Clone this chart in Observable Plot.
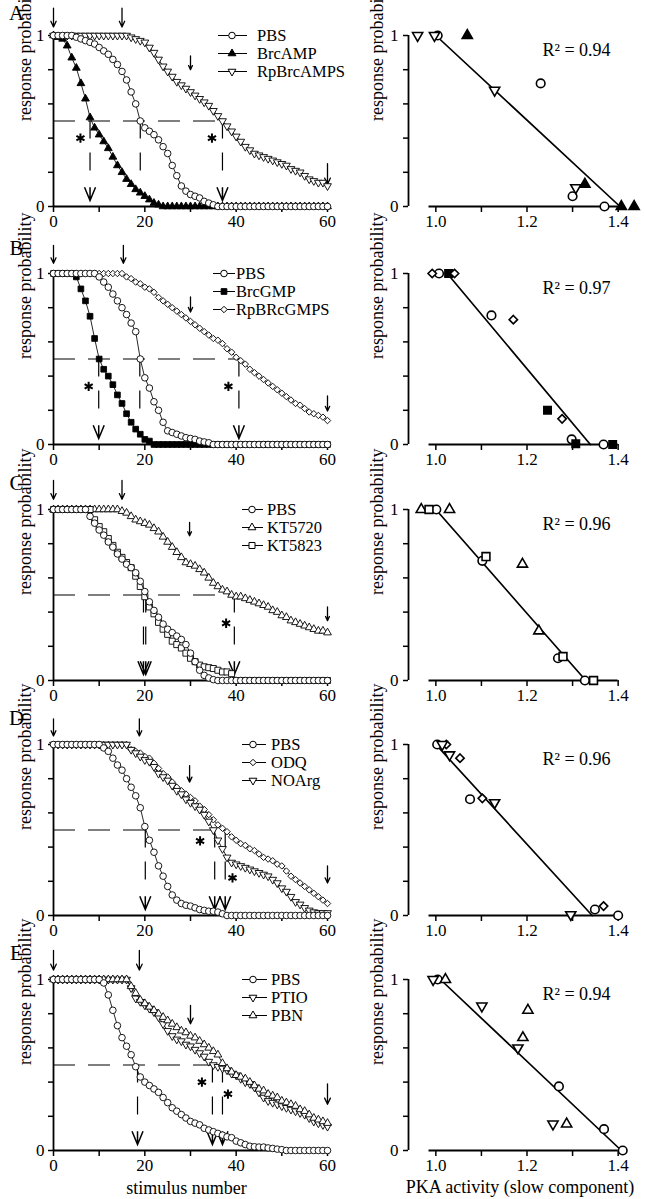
<!DOCTYPE html>
<html>
<head>
<meta charset="utf-8">
<script src="https://cdn.jsdelivr.net/npm/d3@7"></script>
<script src="https://cdn.jsdelivr.net/npm/@observablehq/plot@0.6"></script>
<style>
html,body{margin:0;padding:0;background:#fff;}
body{width:645px;height:1199px;overflow:hidden;position:relative;font-family:"Liberation Serif","Times New Roman",serif;color:#000;}
.cell{position:absolute;}
.cell svg{overflow:visible;display:block;}
</style>
</head>
<body>
<script>
// ---------- axes / ticks ----------
const stim = d3.range(0, 61);
const stimTicks = [0, 10, 20, 30, 40, 50, 60];
const stimTickLabels = [0, 20, 40, 60];
const probTicks = [0, 0.2, 0.4, 0.6, 0.8, 1];
const probTickLabels = [0, 1];
const pkaTicks = [1.0, 1.1, 1.2, 1.3, 1.4];
const pkaTickLabels = [1.0, 1.2, 1.4];
const pkaDomain = [0.94, 1.46];
const pkaAxisSpan = [0.985, 1.4];
const criterion = 0.5;

// ---------- Panel A ----------
const namesA = ["PBS", "BrcAMP", "RpBrcAMPS"];
const pbsA = [1,1,1,1,1, 0.99,0.98,0.97,0.96,0.95, 0.93,0.91,0.89,0.86,0.83, 0.79,0.74,0.67,0.6,0.5,
  0.46,0.44,0.42,0.39,0.35, 0.31,0.24,0.18,0.12,0.09, 0.07,0.06,0.05,0.03,0.02, 0.01,0,0,0,0,
  0,0,0,0,0,0,0,0,0,0, 0,0,0,0,0,0,0,0,0,0, 0];
const brcAMP = [1,0.99,0.98,0.94,0.87, 0.81,0.72,0.63,0.52,0.46, 0.42,0.38,0.34,0.29,0.24, 0.2,0.16,0.13,0.1,0.08,
  0.06,0.04,0.02,0.01,0, 0,0,0,0,0, 0,0,0,0,0, 0,0,0,0,0,
  0,0,0,0,0,0,0,0,0,0, 0,0,0,0,0,0,0,0,0,0, 0];
const rpBrcAMPS = [1,1,1,1,1,1,1,1,1,1, 1,1,1,1,1,1,1,
  0.99,0.98,0.97,0.96,0.93,0.9,0.86,0.82,0.79,0.76,
  0.73,0.71,0.69,0.67,0.65,0.63,0.61,0.59,0.56,0.53,
  0.5,0.47,0.44,0.41,0.38,0.35,0.33,0.31,0.3,0.29,
  0.28,0.27,0.26,0.25,0.24,0.22,0.21,0.2,0.18,0.16,
  0.15,0.14,0.14,0.12];
const pkaA = [[1.004, 1.23, 1.30, 1.37], [1.069, 1.327, 1.407, 1.435], [0.96, 0.997, 1.129, 1.307]];
const respA = [[1, 0.72, 0.06, 0], [1, 0.13, 0, 0], [1, 1, 0.68, 0.11]];
const fitA = {pka: [1.0, 1.404], resp: [1, 0]};
const arrowsA = [{x: 0, top: 1.16, tip: 1.05}, {x: 15, top: 1.16, tip: 1.05}, {x: 30, top: 0.88, tip: 0.8}, {x: 60, top: 0.25, tip: 0.13}];
const halfA = [{from: 0, to: 37}];
const crossA = [{x: 8, chevron: true}, {x: 19, chevron: false}, {x: 37, chevron: true}];
const starsA = [{x: 5.9, y: 0.4}, {x: 34.7, y: 0.4}];

// ---------- Panel B ----------
const namesB = ["PBS", "BrcGMP", "RpBRcGMPS"];
const pbsB = [1,1,1,1,1,1,1,1,1,1,
  0.98,0.95,0.92,0.88,0.84, 0.8,0.76,0.71,0.66,0.5,
  0.39,0.33,0.25,0.2,0.13, 0.08,0.07,0.06,0.05,0.04,
  0.035,0.03,0.02,0.015,0.01, 0,0,0,0,0,
  0,0,0,0,0,0,0,0,0,0, 0,0,0,0,0,0,0,0,0,0, 0];
const brcGMP = [1,1,1,1,1, 0.98,0.91,0.84,0.75,0.62, 0.5,0.44,0.4,0.35,0.29, 0.24,0.18,0.13,0.09,0.06,
  0.03,0.02,0,0,0, 0,0,0,0,0, 0,0,0,0,0, 0,0,0,0,0,
  0,0,0,0,0,0,0,0,0,0, 0,0,0,0,0,0,0,0,0,0, 0];
const rpBRcGMPS = [1,1,1,1,1,1,1,1,1,1, 1,1,1,1,1,1,
  0.98,0.97,0.95,0.94,0.92, 0.91,0.89,0.86,0.84,0.82, 0.8,0.78,0.76,0.74,0.72,
  0.7,0.68,0.66,0.64,0.62, 0.61,0.59,0.56,0.54,0.51, 0.49,0.47,0.44,0.42,0.4,
  0.38,0.36,0.34,0.32,0.3, 0.28,0.26,0.24,0.23,0.21, 0.19,0.18,0.17,0.16,0.14];
const pkaB = [[1.007, 1.122, 1.298, 1.368], [1.028, 1.245, 1.307, 1.388], [0.992, 1.041, 1.17, 1.277]];
const respB = [[1, 0.755, 0.03, 0], [1, 0.2, 0.005, 0], [1, 1, 0.73, 0.15]];
const fitB = {pka: [1.025, 1.339], resp: [1, 0]};
const arrowsB = [{x: 0, top: 1.165, tip: 1.06}, {x: 15.3, top: 1.165, tip: 1.06}, {x: 30, top: 0.863, tip: 0.775}, {x: 60, top: 0.284, tip: 0.196}];
const halfB = [{from: 0, to: 40.6}];
const crossB = [{x: 9.9, chevron: true}, {x: 18.9, chevron: false}, {x: 40.6, chevron: true}];
const starsB = [{x: 7.7, y: 0.34}, {x: 38.3, y: 0.34}];

// ---------- Panel C ----------
const namesC = ["PBS", "KT5720", "KT5823"];
const pbsC = [1,1,1,1,1,1,1,1,
  0.96,0.92,0.88,0.85,0.81, 0.78,0.74,0.71,0.68,0.66, 0.63,0.58,0.52,0.46,0.41,
  0.37,0.33,0.3,0.28,0.26, 0.24,0.21,0.16,0.11,0.06, 0.03,0.015,0.005,0,0,
  0,0,0,0,0,0,0,0,0,0, 0,0,0,0,0,0,0,0,0,0, 0,0,0];
const kt5720 = [1,1,1,1,1,1,1,1,1,1, 1,1,1,1,1,
  0.99,0.98,0.96,0.94,0.93, 0.92,0.91,0.89,0.87,0.84, 0.81,0.78,0.75,0.72,0.69,
  0.68,0.67,0.65,0.63,0.6, 0.57,0.55,0.53,0.52,0.5, 0.49,0.49,0.48,0.47,0.46,
  0.45,0.44,0.43,0.41,0.4, 0.38,0.37,0.35,0.34,0.33, 0.32,0.31,0.3,0.29,0.29, 0.28];
const kt5823 = [1,1,1,1,1,1,1,1,1,
  0.94,0.9,0.87,0.83,0.79, 0.75,0.72,0.69,0.66,0.61, 0.55,0.49,0.43,0.39,0.34,
  0.3,0.27,0.23,0.21,0.19, 0.16,0.13,0.11,0.09,0.08, 0.075,0.07,0.06,0.05,0.05,
  0.04,0, 0,0,0,0,0,0,0,0,0,0, 0,0,0,0,0,0,0,0,0,0];
const pkaC = [[1.001, 1.102, 1.268, 1.327], [0.968, 1.03, 1.19, 1.226], [0.985, 1.11, 1.279, 1.346]];
const respC = [[1, 0.7, 0.13, 0], [1, 1, 0.68, 0.29], [1, 0.725, 0.14, 0]];
const fitC = {pka: [1.0, 1.329], resp: [1, 0]};
const arrowsC = [{x: 0, top: 1.17, tip: 1.06}, {x: 15, top: 1.17, tip: 1.06}, {x: 29.8, top: 0.925, tip: 0.846}, {x: 60, top: 0.43, tip: 0.35}];
const halfC = [{from: 0, to: 39.6}];
const crossC = [{x: 19.7, chevron: true}, {x: 20.2, chevron: true}, {x: 39.6, chevron: true}];
const starsC = [{x: 37.8, y: 0.335}];

// ---------- Panel D ----------
const namesD = ["PBS", "ODQ", "NOArg"];
const pbsD = [1,1,1,1,1,1,1,1,1,1,1,
  0.98,0.96,0.92,0.88,0.85, 0.8,0.75,0.7,0.63,0.52, 0.44,0.37,0.29,0.23,0.17,
  0.12,0.09,0.07,0.06,0.055, 0.045,0.035,0.03,0.025,0.025, 0.02,0.01,
  0,0,0,0,0,0,0,0,0,0, 0,0,0,0,0,0,0,0,0,0, 0,0,0];
const odq = [1,1,1,1,1,1,1,1,1,1, 1,1,1,1,1,1,1,
  0.97,0.96,0.95,0.93,0.92, 0.89,0.86,0.83,0.81,0.78, 0.75,0.73,0.71,0.69,0.67,
  0.64,0.62,0.59,0.56,0.53, 0.51,0.49,0.46,0.44,0.42, 0.41,0.39,0.38,0.36,0.34,
  0.33,0.32,0.3,0.29,0.26, 0.23,0.21,0.19,0.17,0.15, 0.13,0.11,0.09,0.07];
const noarg = [1,1,1,1,1,1,1,1,1,1, 1,1,1,1,1,1,1,
  0.97,0.95,0.93,0.91,0.9, 0.87,0.83,0.81,0.79,0.76, 0.73,0.71,0.68,0.66,0.64,
  0.62,0.59,0.55,0.5,0.44, 0.39,0.34,0.31,0.3,0.29, 0.28,0.27,0.26,0.25,0.24,
  0.23,0.21,0.19,0.16,0.14, 0.11,0.08,0.065,0.045,0.03, 0.02,0.015,0.015,0.015];
const pkaD = [[1.003, 1.075, 1.349, 1.4], [1.023, 1.053, 1.102, 1.368], [1.014, 1.03, 1.129, 1.296]];
const respD = [[1, 0.68, 0.035, 0], [1, 0.92, 0.685, 0.055], [1, 0.94, 0.66, 0.005]];
const fitD = {pka: [1.0, 1.343], resp: [1, 0]};
const arrowsD = [{x: 0, top: 1.15, tip: 1.05}, {x: 18.8, top: 1.15, tip: 1.05}, {x: 29.8, top: 0.877, tip: 0.78}, {x: 60, top: 0.29, tip: 0.19}];
const halfD = [{from: 0, to: 35.3}];
const crossD = [{x: 20.1, chevron: true}, {x: 35.3, chevron: true}, {x: 37.6, chevron: true}];
const starsD = [{x: 32.1, y: 0.436}, {x: 39.2, y: 0.22}];

// ---------- Panel E ----------
const namesE = ["PBS", "PTIO", "PBN"];
const pbsE = [1,1,1,1,1,1,1,1,1,1,1,
  0.98,0.91,0.82,0.73,0.66, 0.61,0.56,0.49,0.43,0.4, 0.38,0.36,0.34,0.31,0.28,
  0.25,0.23,0.21,0.19,0.17, 0.16,0.15,0.13,0.12,0.11, 0.1,0.09,0.08,0.075,0.055,
  0.045,0.035,0.025,0.022,0.02, 0.02,0.015,0.012,0.008,0.005,
  0,0,0,0,0,0,0,0,0,0];
const ptio = [1,1,1,1,1,1,1,1,1,1, 1,1,1,1,1,1,1,
  0.95,0.89,0.87,0.85,0.83, 0.81,0.78,0.74,0.7,0.67, 0.65,0.64,0.62,0.61,0.59,
  0.57,0.55,0.52,0.5,0.49, 0.48,0.47,0.45,0.44,0.42, 0.4,0.39,0.37,0.34,0.31,
  0.29,0.28,0.27,0.26,0.25, 0.24,0.23,0.22,0.21,0.19, 0.17,0.16,0.15,0.14];
const pbn = [1,1,1,1,1,1,1,1,1,1, 1,1,1,1,1,1,1,
  0.96,0.92,0.88,0.86,0.84, 0.82,0.8,0.78,0.76,0.74, 0.72,0.7,0.69,0.67,0.66,
  0.64,0.62,0.6,0.58,0.56, 0.51,0.48,0.46,0.44,0.43, 0.42,0.4,0.38,0.36,0.35,
  0.33,0.32,0.31,0.29,0.28, 0.27,0.26,0.24,0.23,0.21, 0.19,0.18,0.17,0.16];
const pkaE = [[1.004, 1.27, 1.369, 1.41], [0.994, 1.101, 1.18, 1.257], [1.021, 1.191, 1.202, 1.287]];
const respE = [[1, 0.375, 0.125, 0], [1, 0.845, 0.6, 0.155], [1, 0.66, 0.82, 0.155]];
const fitE = {pka: [1.01, 1.407], resp: [1, 0]};
const arrowsE = [{x: 0, top: 1.17, tip: 1.055}, {x: 18.8, top: 1.17, tip: 1.055}, {x: 30, top: 0.849, tip: 0.741}, {x: 60, top: 0.39, tip: 0.27}];
const halfE = [{from: 0, to: 35}];
const crossE = [{x: 18.4, chevron: true}, {x: 34.8, chevron: true}, {x: 37, chevron: true}];
const starsE = [{x: 32.5, y: 0.4}, {x: 38.2, y: 0.33}];

const panelLetters = ["A", "B", "C", "D", "E"];
const r2Labels = ["R² = 0.94", "R² = 0.97", "R² = 0.96", "R² = 0.96", "R² = 0.94"];

// ---------- symbols & styles ----------
const sqrt3 = Math.sqrt(3);
const triangleDown = {draw(ctx, size) {
  const y = -Math.sqrt(size / (sqrt3 * 3));
  ctx.moveTo(0, -y * 2); ctx.lineTo(-sqrt3 * y, y); ctx.lineTo(sqrt3 * y, y); ctx.closePath();
}};
const chevron = {draw(ctx, size) {
  const r = Math.sqrt(size / Math.PI), w = r, h = 2.4 * r;
  ctx.moveTo(-w, -h); ctx.lineTo(0, 0); ctx.lineTo(w, -h);
  ctx.moveTo(0, -h); ctx.lineTo(0, 0);
}};
const d3Sym = {circle: d3.symbolCircle, triangle: d3.symbolTriangle, square: d3.symbolSquare, diamond2: d3.symbolDiamond2};
const styles = {
  PBS: {symbol: "circle", fill: "white", r: 3.3},
  BrcAMP: {symbol: "triangle", fill: "black", r: 2.9},
  RpBrcAMPS: {symbol: triangleDown, fill: "white", r: 2.9},
  BrcGMP: {symbol: "square", fill: "black", r: 3.2},
  RpBRcGMPS: {symbol: "diamond2", fill: "white", r: 2.9},
  KT5720: {symbol: "triangle", fill: "white", r: 2.9},
  KT5823: {symbol: "square", fill: "white", r: 3.4},
  ODQ: {symbol: "diamond2", fill: "white", r: 2.9},
  NOArg: {symbol: triangleDown, fill: "white", r: 2.9},
  PTIO: {symbol: triangleDown, fill: "white", r: 2.9},
  PBN: {symbol: "triangle", fill: "white", r: 2.9}
};

const panels = [
  {names: namesA, curves: [pbsA, brcAMP, rpBrcAMPS], pka: pkaA, resp: respA, fit: fitA, arrows: arrowsA, half: halfA, cross: crossA, stars: starsA, leg: {l1: 218, l2: 247, m: 232, t: 257}},
  {names: namesB, curves: [pbsB, brcGMP, rpBRcGMPS], pka: pkaB, resp: respB, fit: fitB, arrows: arrowsB, half: halfB, cross: crossB, stars: starsB, leg: {l1: 213, l2: 235, m: 224, t: 236}},
  {names: namesC, curves: [pbsC, kt5720, kt5823], pka: pkaC, resp: respC, fit: fitC, arrows: arrowsC, half: halfC, cross: crossC, stars: starsC, leg: {l1: 242, l2: 263, m: 252, t: 267}},
  {names: namesD, curves: [pbsD, odq, noarg], pka: pkaD, resp: respD, fit: fitD, arrows: arrowsD, half: halfD, cross: crossD, stars: starsD, leg: {l1: 242, l2: 266, m: 253, t: 271}},
  {names: namesE, curves: [pbsE, ptio, pbn], pka: pkaE, resp: respE, fit: fitE, arrows: arrowsE, half: halfE, cross: crossE, stars: starsE, leg: {l1: 242, l2: 267, m: 253, t: 271}}
];

const rowTops = [0, 238, 474, 709, 944];
const letterDy = [-22, -25, -26, -26, -26];
const MT = 35, PH = 171;
const FONT = "'Liberation Serif', 'Times New Roman', serif";
const baseStyle = {fontFamily: FONT, fontSize: "17px", background: "transparent", color: "black", overflow: "visible"};

function probAxis(pad) {
  return Plot.axisY(probTicks, {tickSize: 5, tickPadding: pad, strokeWidth: 1.5, fontSize: 17, label: null,
    tickFormat: d => probTickLabels.includes(d) ? String(d) : ""});
}

function leftPlot(p, idx, isLast) {
  const H = MT + PH + (isLast ? 50 : 30);
  const marks = [
    Plot.ruleY(p.half, {y: () => criterion, x1: "from", x2: "to", strokeDasharray: "22,13", strokeWidth: 1.2}),
    Plot.ruleX(p.cross, {x: "x", y1: () => criterion, y2: () => 0.14, strokeDasharray: "18,14", strokeWidth: 1.2}),
    Plot.dot(p.cross.filter(d => d.chevron), {x: "x", y: () => 0.035, symbol: chevron, r: 5.5, fill: "none", stroke: "black", strokeWidth: 1.5}),
    Plot.arrow(p.arrows, {x: "x", y1: "top", y2: "tip", strokeWidth: 1.3, headAngle: 50, headLength: 10}),
    Plot.dot(p.stars, {x: "x", y: "y", symbol: "asterisk", r: 4.4, stroke: "black", strokeWidth: 2}),
    Plot.ruleX([stimTicks[0]], {strokeWidth: 1.8}),
    Plot.ruleY([probTicks[0]], {strokeWidth: 1.8}),
    probAxis(4),
    Plot.axisX(stimTicks, {tickSize: 6, tickPadding: 2, strokeWidth: 1.5, fontSize: 17, label: null,
      tickFormat: d => stimTickLabels.includes(d) ? String(d) : ""}),
    Plot.text(["response probability"], {frameAnchor: "left", lineAnchor: "middle", rotate: -90, dx: -28, fontSize: 18}),
    Plot.text([panelLetters[idx]], {frameAnchor: "top-left", lineAnchor: "middle", textAnchor: "middle", dx: -37, dy: letterDy[idx], fontSize: 21})
  ];
  for (const k of [1, 2, 0]) {
    const data = p.curves[k].map((v, i) => ({stim: stim[i], p: v}));
    const st = styles[p.names[k]];
    marks.push(Plot.line(data, {x: "stim", y: "p", stroke: "black", strokeWidth: 0.85}));
    marks.push(Plot.dot(data, {x: "stim", y: "p", symbol: st.symbol, r: st.r, fill: st.fill, stroke: "black", strokeWidth: 0.9}));
  }
  if (isLast) marks.push(Plot.text(["stimulus number"], {frameAnchor: "bottom", lineAnchor: "middle", dy: 38, dx: -4, fontSize: 18}));
  const svg = Plot.plot({
    width: 330, height: H, marginLeft: 53, marginRight: 3, marginTop: MT, marginBottom: H - MT - PH,
    x: {domain: [stimTicks[0], stimTicks[stimTicks.length - 1]]},
    y: {domain: [0, 1]},
    style: baseStyle, marks
  });
  const root = d3.select(svg);
  // legend
  const g = root.append("g").attr("font-family", FONT).attr("font-size", 16.5).attr("text-anchor", "start");
  p.names.forEach((name, i) => {
    const y = MT + 0.5 + i * 18;
    const st = styles[name];
    g.append("line").attr("x1", p.leg.l1).attr("x2", p.leg.l2).attr("y1", y).attr("y2", y).attr("stroke", "black").attr("stroke-width", 1);
    const type = typeof st.symbol === "string" ? d3Sym[st.symbol] : st.symbol;
    g.append("path").attr("transform", `translate(${p.leg.m},${y})`)
      .attr("d", d3.symbol(type, Math.PI * st.r * st.r)()).attr("fill", st.fill).attr("stroke", "black").attr("stroke-width", 1);
    g.append("text").attr("x", p.leg.t).attr("y", y).attr("dy", "0.33em").attr("fill", "black").text(name);
  });
  return svg;
}

function rightPlot(p, idx, isLast) {
  const H = MT + PH + (isLast ? 50 : 30);
  const marks = [
    Plot.ruleX([pkaDomain[0]], {strokeWidth: 1.8}),
    Plot.ruleY([{x1: pkaAxisSpan[0], x2: pkaAxisSpan[1]}], {y: () => 0, x1: "x1", x2: "x2", strokeWidth: 1.8}),
    probAxis(5),
    Plot.axisX(pkaTicks, {tickSize: 6, tickPadding: 2, strokeWidth: 1.5, fontSize: 17, label: null,
      tickFormat: d => pkaTickLabels.includes(d) ? d.toFixed(1) : ""}),
    Plot.text(["response probability"], {frameAnchor: "left", lineAnchor: "middle", rotate: -90, dx: -31, fontSize: 18}),
    Plot.line(p.fit.pka.map((x, i) => ({x, y: p.fit.resp[i]})), {x: "x", y: "y", stroke: "black", strokeWidth: 1.7}),
    Plot.text([r2Labels[idx]], {frameAnchor: "top-left", lineAnchor: "middle", dx: 134, dy: 15, textAnchor: "start", fontSize: 18})
  ];
  for (const k of [0, 1, 2]) {
    const st = styles[p.names[k]];
    const data = p.pka[k].map((x, i) => ({x, y: p.resp[k][i]}));
    marks.push(Plot.dot(data, {x: "x", y: "y", symbol: st.symbol, r: st.r * 1.3, fill: st.fill, stroke: "black", strokeWidth: 1.6}));
  }
  if (isLast) marks.push(Plot.text(["PKA activity (slow component)"], {frameAnchor: "bottom", lineAnchor: "middle", dy: 37, dx: -7, fontSize: 18}));
  return Plot.plot({
    width: 315, height: H, marginLeft: 78, marginRight: 0, marginTop: MT, marginBottom: H - MT - PH,
    x: {domain: pkaDomain}, y: {domain: [0, 1]},
    style: baseStyle, marks
  });
}

panels.forEach((p, i) => {
  const isLast = i === panels.length - 1;
  const right = document.createElement("div");
  right.className = "cell"; right.style.left = "330px"; right.style.top = rowTops[i] + "px";
  right.appendChild(rightPlot(p, i, isLast));
  document.body.appendChild(right);
  const left = document.createElement("div");
  left.className = "cell"; left.style.left = "0px"; left.style.top = rowTops[i] + "px";
  left.appendChild(leftPlot(p, i, isLast));
  document.body.appendChild(left);
});
</script>
</body>
</html>
